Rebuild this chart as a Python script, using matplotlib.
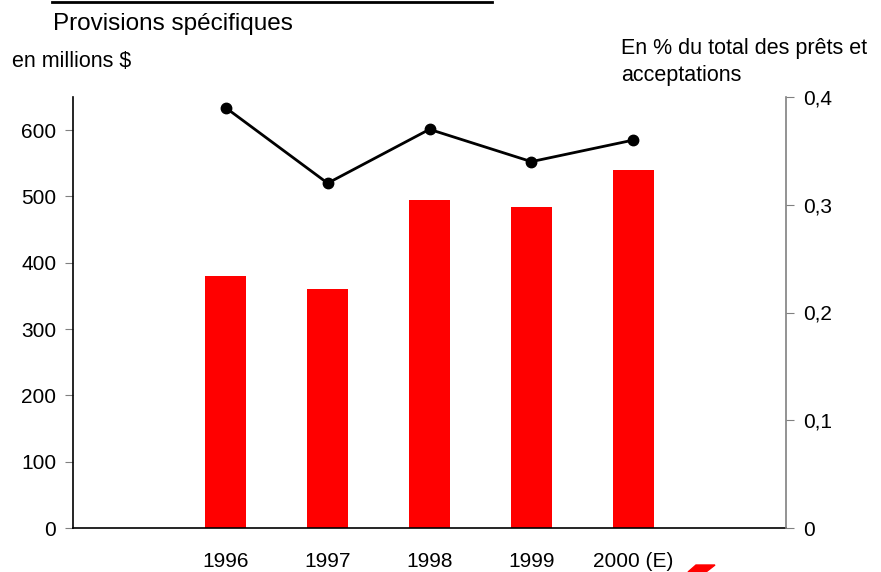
import matplotlib.pyplot as plt
from matplotlib.patches import Polygon

plt.rcParams['font.family'] = ['Liberation Sans', 'DejaVu Sans']

# slots: empty first and last category, as in the source chart
categories = ["", "1996", "1997", "1998", "1999", "2000 (E)", ""]
provisions = [None, 380, 360, 495, 484, 540, None]      # en millions $
pct_loans = [None, 0.39, 0.32, 0.37, 0.34, 0.36, None]  # en % des prêts

fig = plt.figure(figsize=(8.81, 5.72), dpi=100)
ax = fig.add_axes([73 / 881, 44 / 572, 713 / 881, 431 / 572])
ax2 = ax.twinx()

xs = [i for i, v in enumerate(provisions) if v is not None]
ax.bar(xs, [provisions[i] for i in xs], width=0.4, color="#ff0000", zorder=2)
ax.set_xlim(-0.5, len(categories) - 0.5)
ax.set_ylim(0, 650)
ax.set_yticks(range(0, 601, 100))
ax.set_xticks(range(len(categories)))
ax.set_xticklabels(categories)

ax2.plot(xs, [pct_loans[i] for i in xs], color="black", lw=2,
         marker="o", markersize=7.5, zorder=3)
ax2.set_ylim(0, 0.4)
ax2.set_yticks([0, 0.1, 0.2, 0.3, 0.4])
ax2.set_yticklabels(["0", "0,1", "0,2", "0,3", "0,4"])

for a in (ax, ax2):
    a.spines["top"].set_visible(False)
ax.spines["right"].set_visible(False)
ax2.spines["left"].set_visible(False)
ax2.spines["bottom"].set_visible(False)
ax.spines["left"].set_linewidth(1.2)
ax.spines["bottom"].set_linewidth(1.2)
ax2.spines["right"].set_color("#808080")
ax2.spines["right"].set_linewidth(1.2)

ax.tick_params(axis="y", direction="out", length=6, color="#808080",
               labelsize=15, pad=6)
ax.tick_params(axis="x", length=0, labelsize=15, pad=17)
ax2.tick_params(axis="y", direction="out", length=6, color="#808080",
                labelsize=15, pad=6)

fig.text(53 / 881, 1 - 30 / 572, "Provisions spécifiques", fontsize=17.5,
         ha="left", va="baseline")
fig.text(12 / 881, 1 - 67 / 572, "en millions $", fontsize=15.5,
         ha="left", va="baseline")
fig.text(621 / 881, 1 - 54 / 572, "En % du total des prêts et",
         fontsize=15.5, ha="left", va="baseline")
fig.text(621 / 881, 1 - 81 / 572, "acceptations",
         fontsize=15.5, ha="left", va="baseline")

# header rule cut off at the top
fig.add_artist(plt.Line2D([52 / 881, 492 / 881], [1 - 1.5 / 572, 1 - 1.5 / 572],
                          color="black", lw=2, transform=fig.transFigure))
# logo fragment at the bottom
fig.add_artist(Polygon([[688 / 881, 0], [696 / 881, 7 / 572], [715 / 881, 7 / 572],
                        [706 / 881, 0]], closed=True, color="#ff0000",
                       transform=fig.transFigure))

fig.savefig("out.png", dpi=100)
